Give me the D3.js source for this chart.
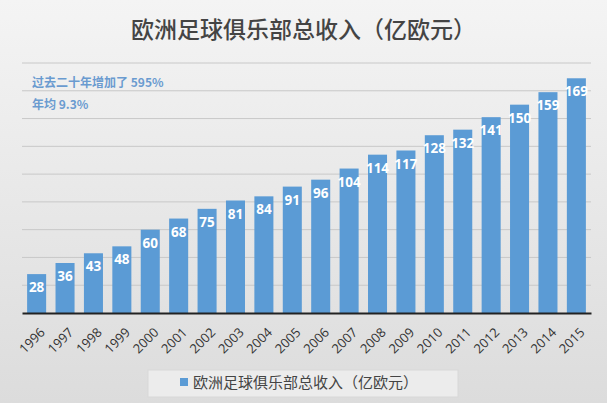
<!DOCTYPE html><html><head><meta charset="utf-8"><script src="https://cdn.jsdelivr.net/npm/d3@7"></script>
<style>body{margin:0}svg{display:block}</style></head><body><script>
const years=["1996","1997","1998","1999","2000","2001","2002","2003","2004","2005","2006","2007","2008","2009","2010","2011","2012","2013","2014","2015"];
const revenue=[28,36,43,48,60,68,75,81,84,91,96,104,114,117,128,132,141,150,159,169];
const gridTicks=[0,20,40,60,80,100,120,140,160,180];
const W=607,H=403;
const svg=d3.select("body").append("svg").attr("width",W).attr("height",H);
const g0=svg.append("defs").append("linearGradient").attr("id","bg").attr("x1",0).attr("y1",0).attr("x2",0).attr("y2",1);
g0.append("stop").attr("offset",0).attr("stop-color","#f4f4f4");
g0.append("stop").attr("offset",1).attr("stop-color","#dcdcdc");
svg.append("rect").attr("width",W).attr("height",H).attr("fill","url(#bg)");
const x=d3.scaleBand().domain(years).range([22,591]).paddingInner(0.33).paddingOuter(0.18);
const y=d3.scaleLinear().domain([0,180]).range([313,63]);
svg.append("g").selectAll("line").data(gridTicks.slice(1)).join("line")
 .attr("x1",22).attr("x2",591).attr("y1",d=>y(d)).attr("y2",d=>y(d)).attr("stroke","#c8c8c8");
svg.append("g").selectAll("rect").data(revenue).join("rect")
 .attr("x",(d,i)=>x(years[i])).attr("width",x.bandwidth()).attr("y",d=>y(d)).attr("height",d=>y(0)-y(d)).attr("fill","#5b9bd5");
svg.append("g").selectAll("text").data(revenue).join("text")
 .attr("x",(d,i)=>x(years[i])+x.bandwidth()/2).attr("y",d=>y(d)+18).attr("text-anchor","middle")
 .attr("fill","#fff").attr("font-family","Open Sans, sans-serif").attr("font-weight","bold").attr("font-size",13.5).text(d=>d);
const ax=svg.append("g").attr("transform","translate(0,313)").call(d3.axisBottom(x).tickSize(0).tickPadding(0));
ax.select(".domain").attr("stroke","#222").attr("stroke-width",2);
ax.selectAll("text").attr("font-family","Open Sans, sans-serif").attr("font-size",13).attr("fill","#333")
 .attr("text-anchor","end").attr("transform","translate(6,17) rotate(-45)").attr("dy","0.35em");
svg.append("text").attr("x",W/2).attr("y",38).attr("text-anchor","middle").attr("font-family","Noto Sans CJK SC").attr("font-weight","500").attr("font-size",23).attr("fill","#444").text("欧洲足球俱乐部总收入（亿欧元）");
svg.append("text").attr("x",32).attr("y",87).attr("font-family","Noto Sans CJK SC").attr("font-weight","bold").attr("font-size",12).attr("fill","#6a9bd0").text("过去二十年增加了 595%");
svg.append("text").attr("x",32).attr("y",109).attr("font-family","Noto Sans CJK SC").attr("font-weight","bold").attr("font-size",12).attr("fill","#6a9bd0").text("年均 9.3%");
svg.append("rect").attr("x",148).attr("y",370).attr("width",310).attr("height",27).attr("fill","#ececec").attr("stroke","#d8d8d8");
svg.append("rect").attr("x",180).attr("y",378).attr("width",8).attr("height",8).attr("fill","#5b9bd5");
svg.append("text").attr("x",193).attr("y",388).attr("font-family","Noto Sans CJK SC").attr("font-size",15).attr("fill","#444").text("欧洲足球俱乐部总收入（亿欧元）");
</script></body></html>
